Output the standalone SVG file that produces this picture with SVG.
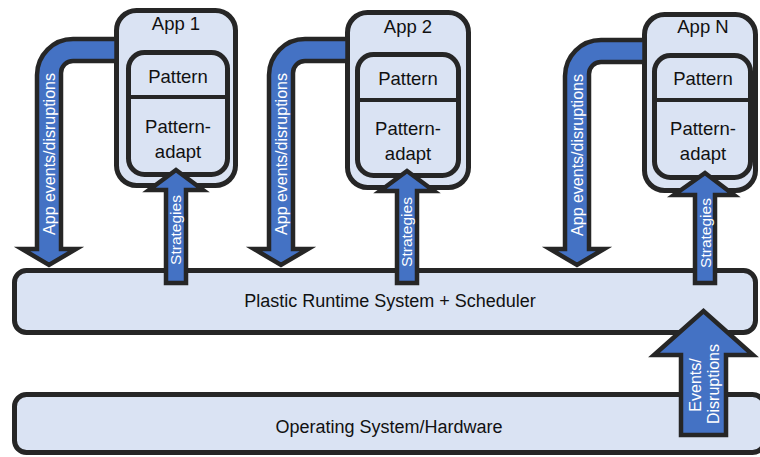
<svg xmlns="http://www.w3.org/2000/svg" width="760" height="457" viewBox="0 0 760 457">
<style>
.box{fill:#dae3f3;stroke:#262626;stroke-width:5}
.div{stroke:#262626;stroke-width:4}
.arr{fill:#4472c4;stroke:#262626;stroke-width:4.5;stroke-linejoin:miter;stroke-miterlimit:10}
.t{font-family:"Liberation Sans",Arial,sans-serif;font-size:18.5px;fill:#111;text-anchor:middle}
.big{font-size:18px}
.w{font-family:"Liberation Sans",Arial,sans-serif;font-size:16px;fill:#fff;text-anchor:middle}
.s{font-size:15.5px}
</style>
<g id="runtime">
<rect class="box" x="14.5" y="270.5" width="741" height="62" rx="12"/>
<text class="t big" x="390" y="307">Plastic Runtime System + Scheduler</text>
</g>
<g id="os">
<rect class="box" x="14.5" y="394.5" width="750" height="58" rx="12"/>
<text class="t big" x="389" y="433">Operating System/Hardware</text>
</g>
<g id="app1">
<rect class="box" x="116.5" y="10.5" width="119" height="175" rx="20"/>
<text class="t" x="176" y="30">App 1</text>
<rect class="box" x="128.5" y="52.5" width="99" height="122" rx="16"/>
<line class="div" x1="128.5" y1="97" x2="227.5" y2="97"/>
<text class="t" x="178" y="83">Pattern</text>
<text class="t" x="178" y="133">Pattern-</text>
<text class="t" x="178" y="158">adapt</text>
</g>
<g id="app2">
<rect class="box" x="347.5" y="12.5" width="121" height="175" rx="20"/>
<text class="t" x="408" y="33">App 2</text>
<rect class="box" x="357.5" y="54.5" width="101" height="121" rx="16"/>
<line class="div" x1="357.5" y1="100" x2="458.5" y2="100"/>
<text class="t" x="408" y="85">Pattern</text>
<text class="t" x="408" y="135">Pattern-</text>
<text class="t" x="408" y="160">adapt</text>
</g>
<g id="appN">
<rect class="box" x="644.5" y="14.5" width="111" height="176" rx="20"/>
<text class="t" x="703" y="33">App N</text>
<rect class="box" x="654.5" y="55.5" width="96" height="122" rx="16"/>
<line class="div" x1="654.5" y1="100" x2="750.5" y2="100"/>
<text class="t" x="703" y="85">Pattern</text>
<text class="t" x="703" y="135">Pattern-</text>
<text class="t" x="703" y="160">adapt</text>
</g>
<g id="connectors">
<path class="arr" d="M116.5 39 L73 39 A36 36 0 0 0 37 75 L37 249 L22 249 L49 265 L76 249 L61 249 L61 73 A12 12 0 0 1 73 61 L116.5 61 Z"/>
<text class="w" transform="translate(54.5 154) rotate(-90)">App events/disruptions</text>
<path class="arr" d="M347.5 39 L305 39 A36 36 0 0 0 269 75 L269 249 L254 249 L281 265 L308 249 L293 249 L293 73 A12 12 0 0 1 305 61 L347.5 61 Z"/>
<text class="w" transform="translate(286.5 154) rotate(-90)">App events/disruptions</text>
<path class="arr" d="M644.5 40 L601 40 A36 36 0 0 0 565 76 L565 249 L550 249 L577 265 L604 249 L589 249 L589 74 A12 12 0 0 1 601 62 L644.5 62 Z"/>
<text class="w" transform="translate(582.5 155) rotate(-90)">App events/disruptions</text>
<path class="arr" d="M166 283 L166 190 L149 190 L176 170 L203 190 L186 190 L186 283 Z"/>
<text class="w s" transform="translate(181 230) rotate(-90)">Strategies</text>
<path class="arr" d="M397 283 L397 191 L380 191 L407 171 L434 191 L417 191 L417 283 Z"/>
<text class="w s" transform="translate(412 232) rotate(-90)">Strategies</text>
<path class="arr" d="M695 283 L695 195 L674 195 L705 173 L734 195 L715 195 L715 283 Z"/>
<text class="w s" transform="translate(710.5 233) rotate(-90)">Strategies</text>
<path class="arr" d="M681 435 L681 355 L654 355 L703.5 311 L753 355 L726 355 L726 435 Z"/>
<text class="w" transform="translate(701 385) rotate(-90)">Events/</text>
<text class="w" transform="translate(719 384) rotate(-90)">Disruptions</text>
</g>
</svg>
